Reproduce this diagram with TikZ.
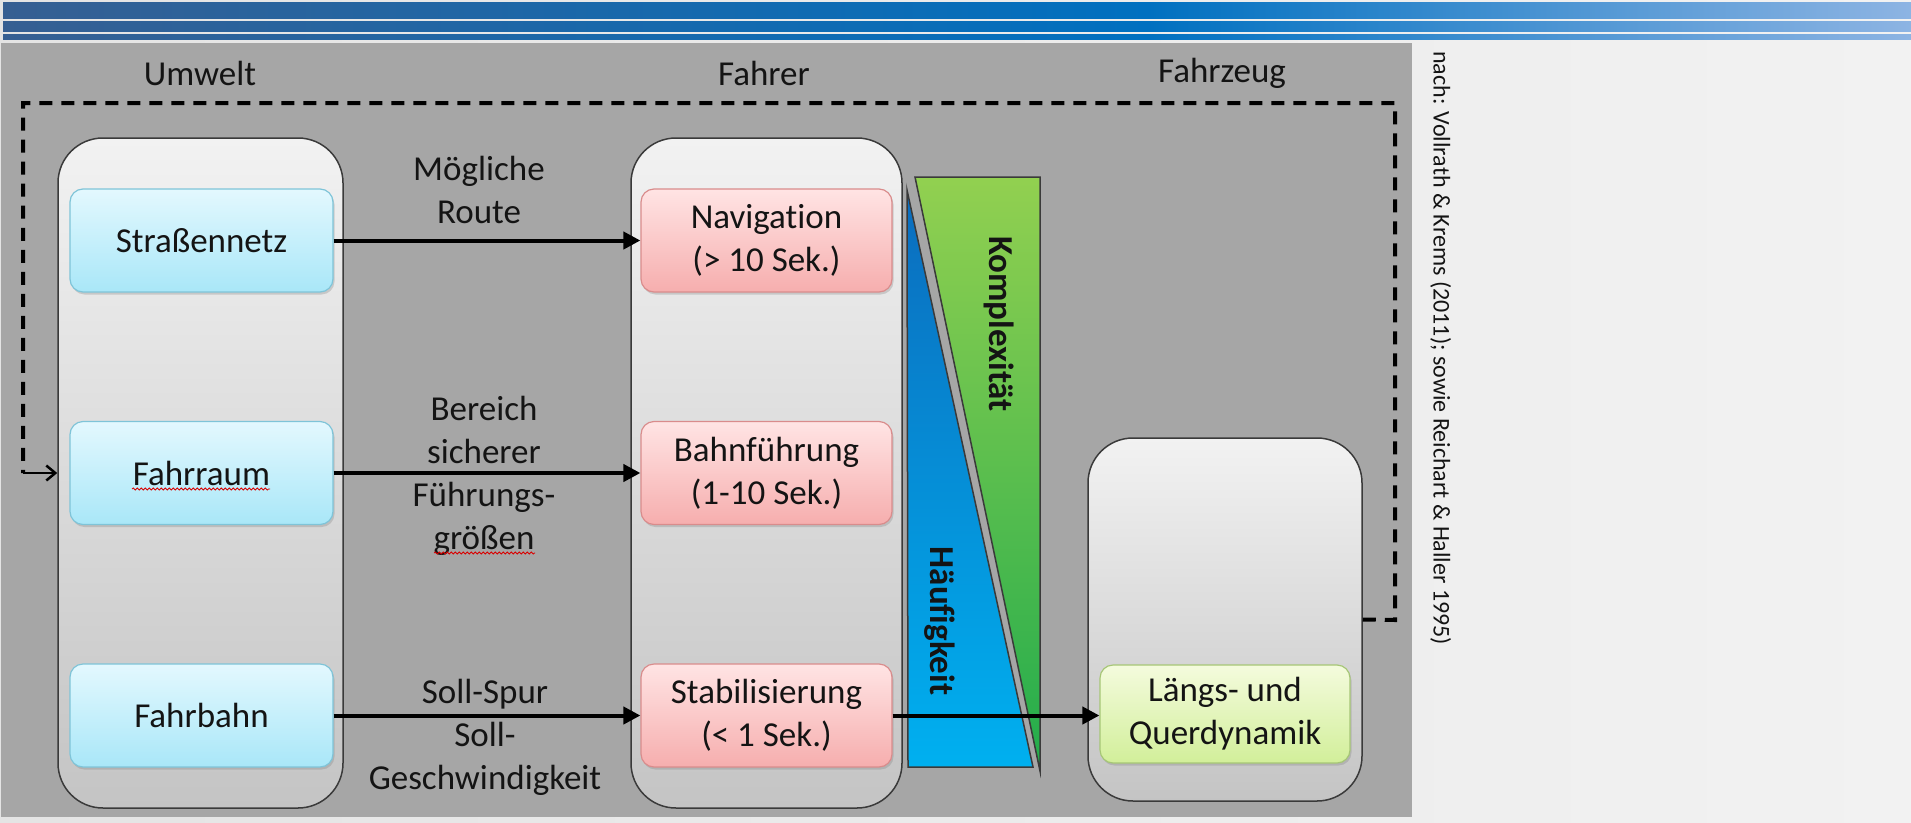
\documentclass[tikz,border=0pt]{standalone}
\usepackage{fontspec}
\setmainfont[Ligatures=NoCommon]{Carlito}
\usetikzlibrary{arrows.meta,shadows,decorations.pathmorphing}
\definecolor{bgl}{HTML}{E4E4E4}
\definecolor{bgr}{HTML}{F2F2F2}
\definecolor{panel}{HTML}{A6A6A6}
\definecolor{barA}{HTML}{365F92}
\definecolor{barB}{HTML}{0070C0}
\definecolor{barC}{HTML}{8DB4E3}
\definecolor{ctop}{HTML}{F2F2F2}
\definecolor{cbot}{HTML}{C4C4C4}
\definecolor{cbord}{HTML}{3A3A3A}
\definecolor{btop}{HTML}{E3F8FE}
\definecolor{bbot}{HTML}{A9E7F8}
\definecolor{bbord}{HTML}{7FC4D8}
\definecolor{rtop}{HTML}{FFE4E4}
\definecolor{rbot}{HTML}{F6AEAE}
\definecolor{rbord}{HTML}{D98C8C}
\definecolor{gtop}{HTML}{F4FBDD}
\definecolor{gbot}{HTML}{D2EF9A}
\definecolor{gbord}{HTML}{A6C676}
\definecolor{grtop}{HTML}{92D050}
\definecolor{grbot}{HTML}{22AC4C}
\definecolor{bltop}{HTML}{0B6CBD}
\definecolor{blbot}{HTML}{00B0F0}
\definecolor{tcol}{HTML}{141414}
\pgfdeclarehorizontalshading{barshade}{100bp}{color(0bp)=(barA); color(25bp)=(barA); color(55bp)=(barB); color(75bp)=(barC); color(100bp)=(barC)}
\begin{document}
\begin{tikzpicture}[x=1pt,y=-1pt,
  txt/.style={font=\fontsize{35}{43}\selectfont, text=tcol, align=center, inner sep=0pt},
  cont/.style={draw=cbord, line width=1.5pt, rounded corners=45pt, top color=ctop, bottom color=cbot, inner sep=0pt},
  inbox/.style={txt, line width=1.2pt, rounded corners=13pt, drop shadow={opacity=0.3, shadow xshift=1.5pt, shadow yshift=-2.5pt}},
  bbox/.style={inbox, draw=bbord, top color=btop, bottom color=bbot, minimum width=263pt, minimum height=103pt},
  rbox/.style={inbox, draw=rbord, top color=rtop, bottom color=rbot, minimum width=251pt, minimum height=103pt},
  gbox/.style={inbox, draw=gbord, top color=gtop, bottom color=gbot, minimum width=250pt, minimum height=98pt},
  flow/.style={line width=4pt, -{Triangle[length=17pt,width=17pt]}},
  fbline/.style={line width=4pt, dash pattern=on 13pt off 9pt},
  tri/.style={draw=cbord, line width=1.5pt},
  squiggle/.style={red!85!black, line width=0.8pt, decorate, decoration={snake, amplitude=1pt, segment length=4pt}}
]
\useasboundingbox (0,0) rectangle (1911,822);
% background
\fill[left color=bgl, right color=bgr] (0,0) rectangle (1911,822);
\shade[shading=barshade] (3,2) rectangle (1911,18);
\shade[shading=barshade] (3,21) rectangle (1911,31);
\shade[shading=barshade] (3,34) rectangle (1911,39);
\fill[panel] (1,43) rectangle (1412,817);

% column headers
\node[txt] (hu) at (200,73) {Umwelt};
\node[txt] (hf) at (764,73) {Fahrer};
\node[txt] (hz) at (1222,73) {Fahrzeug};

% containers
\node[cont, minimum width=285pt, minimum height=670pt] (umw) at (200.5,473) {};
\node[cont, minimum width=271pt, minimum height=670pt] (fah) at (766.5,473) {};
\node[cont, minimum width=274pt, minimum height=363pt] (fzg) at (1225,619.5) {};

% triangles
\shade[top color=grtop, bottom color=grbot] (915,177) -- (1040,177) -- (1040,771) -- cycle;
\draw[tri] (915,177) -- (1040,177) -- (1040,771) -- cycle;
\shade[top color=bltop, bottom color=blbot] (907,190) -- (908,767) -- (1033,767) -- cycle;
\draw[tri] (907,190) -- (908,767) -- (1033,767) -- cycle;
\node[txt, rotate=-90, font=\fontsize{35}{43}\selectfont\bfseries] (kx) at (999,324) {Komplexität};
\node[txt, rotate=-90, font=\fontsize{35}{43}\selectfont\bfseries] (hk) at (940,621) {Häufigkeit};

% inner boxes
\node[bbox] (sn) at (201.5,240.5) {Straßennetz};
\node[bbox] (fr) at (201.5,473) {Fahrraum};
\node[bbox] (fb) at (201.5,715.5) {Fahrbahn};
\node[rbox] (nav) at (766.5,240.5) {Navigation\\(> 10 Sek.)};
\node[rbox] (bf) at (766.5,473) {Bahnführung\\(1-10 Sek.)};
\node[rbox] (st) at (766.5,715.5) {Stabilisierung\\(< 1 Sek.)};
\node[gbox] (ld) at (1225,714) {Längs- und\\Querdynamik};

% edge labels
\node[txt] (l1) at (479,190) {Mögliche\\Route};
\node[txt] (l2) at (484,476) {Bereich\\sicherer\\Führungs-\\größen};
\node[txt] (l3) at (485,737) {Soll-Spur\\Soll-\\Geschwindigkeit};

% spell-check squiggles
\draw[squiggle] (132,489) -- (270,489);
\draw[squiggle] (434,553) -- (535,553);

% flows
\draw[flow] (sn.east) -- (nav.west);
\draw[flow] (fr.east) -- (bf.west);
\draw[flow] (fb.east) -- (st.west);
\draw[flow] (st.east) -- (st.east -| ld.west);

% feedback
\coordinate (fbend) at (23,473);
\draw[fbline] (fzg.east) -- (1395,620) -- (1395,103) -- (23,103) -- (fbend);
\draw[line width=2.5pt, -{Straight Barb[length=9pt,width=15pt]}] (fbend) -- (umw.west);

% citation
\node[rotate=-90, anchor=south west, font=\fontsize{24}{28}\selectfont, text=tcol, inner sep=0pt] (cite) at (1430,51) {nach: Vollrath \& Krems (2011); sowie Reichart \& Haller 1995)};
\end{tikzpicture}
\end{document}
